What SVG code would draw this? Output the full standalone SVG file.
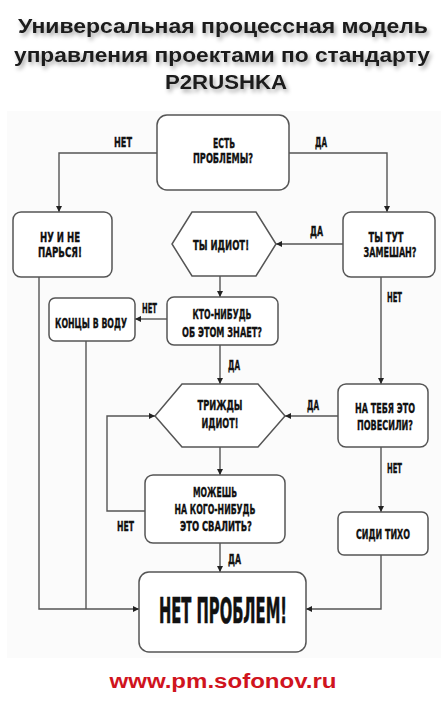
<svg xmlns="http://www.w3.org/2000/svg" width="448" height="709" viewBox="0 0 448 709">
<defs>
<filter id="sh" x="-10%" y="-30%" width="120%" height="170%">
<feDropShadow dx="2" dy="3" stdDeviation="2" flood-color="#000" flood-opacity="0.35"/>
</filter>
<marker id="ah" viewBox="0 0 10 10" refX="10" refY="5" markerWidth="6" markerHeight="6" markerUnits="userSpaceOnUse" orient="auto">
<path d="M0,0 L10,5 L0,10 z" fill="#222"/>
</marker>
<style>
.title{font-family:"Liberation Sans",Arial,sans-serif;font-weight:bold;font-size:20px;fill:#1a1a1a;text-anchor:middle}
.box{fill:#fff;stroke:#555;stroke-width:1.5}
.t{font-family:"DejaVu Sans Condensed","DejaVu Sans",sans-serif;font-weight:bold;font-size:14.5px;fill:#111;stroke:#111;stroke-width:0.35;text-anchor:middle}
.lbl{font-family:"DejaVu Sans Condensed","DejaVu Sans",sans-serif;font-weight:bold;font-size:14.5px;fill:#111;stroke:#111;stroke-width:0.35}
.c{fill:none;stroke:#555;stroke-width:1.4}
.ca{fill:none;stroke:#555;stroke-width:1.4;marker-end:url(#ah)}
.url{font-family:"Liberation Sans",Arial,sans-serif;font-weight:bold;font-size:20px;fill:#d0141e;text-anchor:middle}
</style>
</defs>
<rect width="448" height="709" fill="#fff"/>
<rect x="7" y="111" width="434" height="547" fill="#fbfbfb"/>
<g id="title" filter="url(#sh)">
<text class="title" x="223" y="33" textLength="410" lengthAdjust="spacingAndGlyphs">Универсальная процессная модель</text>
<text class="title" x="222" y="62" textLength="416" lengthAdjust="spacingAndGlyphs">управления проектами по стандарту</text>
<text class="title" x="226" y="89" textLength="122" lengthAdjust="spacingAndGlyphs">P2RUSHKA</text>
</g>
<g id="connectors">
<polyline class="ca" points="157,153 59,153 59,212"/>
<polyline class="ca" points="289,153 387,153 387,212"/>
<line class="ca" x1="343" y1="244" x2="276" y2="244"/>
<line class="ca" x1="220" y1="276" x2="220" y2="297"/>
<line class="ca" x1="167" y1="319" x2="135" y2="319"/>
<line class="ca" x1="220" y1="345" x2="220" y2="384"/>
<line class="ca" x1="381" y1="277" x2="381" y2="384"/>
<line class="ca" x1="338" y1="416" x2="285" y2="416"/>
<polyline class="ca" points="145,511 107,511 107,416 155,416"/>
<line class="ca" x1="220" y1="447" x2="220" y2="475"/>
<line class="ca" x1="381" y1="447" x2="381" y2="512"/>
<line class="ca" x1="220" y1="543" x2="220" y2="572"/>
<polyline class="ca" points="39,277 39,609 139,609"/>
<line class="c" x1="86" y1="341" x2="86" y2="609"/>
<polyline class="ca" points="381,555 381,609 306,609"/>
<text class="lbl" x="114" y="147" textLength="18" lengthAdjust="spacingAndGlyphs">НЕТ</text>
<text class="lbl" x="315" y="147" textLength="12" lengthAdjust="spacingAndGlyphs">ДА</text>
<text class="lbl" x="310" y="236" textLength="13" lengthAdjust="spacingAndGlyphs">ДА</text>
<text class="lbl" x="387" y="302" textLength="15" lengthAdjust="spacingAndGlyphs">НЕТ</text>
<text class="lbl" x="142" y="313" textLength="15" lengthAdjust="spacingAndGlyphs">НЕТ</text>
<text class="lbl" x="228" y="370" textLength="12" lengthAdjust="spacingAndGlyphs">ДА</text>
<text class="lbl" x="307" y="410" textLength="12" lengthAdjust="spacingAndGlyphs">ДА</text>
<text class="lbl" x="387" y="473" textLength="15" lengthAdjust="spacingAndGlyphs">НЕТ</text>
<text class="lbl" x="117" y="531" textLength="17" lengthAdjust="spacingAndGlyphs">НЕТ</text>
<text class="lbl" x="228" y="564" textLength="13" lengthAdjust="spacingAndGlyphs">ДА</text>
</g>
<g id="n-problems">
<rect class="box" x="157" y="115" width="132" height="75" rx="10"/>
<text class="t" x="224" y="148" textLength="22" lengthAdjust="spacingAndGlyphs">ЕСТЬ</text>
<text class="t" x="223" y="163" textLength="60" lengthAdjust="spacingAndGlyphs">ПРОБЛЕМЫ?</text>
</g>
<g id="n-nu">
<rect class="box" x="13" y="212" width="99" height="65" rx="8"/>
<text class="t" x="60" y="242" textLength="40" lengthAdjust="spacingAndGlyphs">НУ И НЕ</text>
<text class="t" x="60" y="257" textLength="44" lengthAdjust="spacingAndGlyphs">ПАРЬСЯ!</text>
</g>
<g id="n-idiot">
<polygon class="box" points="192,212 256,212 276,244 256,276 192,276 172,244"/>
<text class="t" x="221" y="250" textLength="56" lengthAdjust="spacingAndGlyphs">ТЫ ИДИОТ!</text>
</g>
<g id="n-zamesh">
<rect class="box" x="343" y="212" width="92" height="65" rx="8"/>
<text class="t" x="386" y="242" textLength="35" lengthAdjust="spacingAndGlyphs">ТЫ ТУТ</text>
<text class="t" x="390" y="257" textLength="53" lengthAdjust="spacingAndGlyphs">ЗАМЕШАН?</text>
</g>
<g id="n-koncy">
<rect class="box" x="49" y="298" width="86" height="43" rx="6"/>
<text class="t" x="91" y="328" textLength="72" lengthAdjust="spacingAndGlyphs">КОНЦЫ В ВОДУ</text>
</g>
<g id="n-ktonibud">
<rect class="box" x="167" y="297" width="111" height="48" rx="7"/>
<text class="t" x="222" y="319" textLength="59" lengthAdjust="spacingAndGlyphs">КТО-НИБУДЬ</text>
<text class="t" x="222" y="337" textLength="80" lengthAdjust="spacingAndGlyphs">ОБ ЭТОМ ЗНАЕТ?</text>
</g>
<g id="n-trizhdy">
<polygon class="box" points="182,384 258,384 285,416 258,447 182,447 155,416"/>
<text class="t" x="220" y="410" textLength="45" lengthAdjust="spacingAndGlyphs">ТРИЖДЫ</text>
<text class="t" x="220" y="428" textLength="37" lengthAdjust="spacingAndGlyphs">ИДИОТ!</text>
</g>
<g id="n-povesili">
<rect class="box" x="338" y="384" width="90" height="63" rx="8"/>
<text class="t" x="385" y="413" textLength="60" lengthAdjust="spacingAndGlyphs">НА ТЕБЯ ЭТО</text>
<text class="t" x="385" y="430" textLength="56" lengthAdjust="spacingAndGlyphs">ПОВЕСИЛИ?</text>
</g>
<g id="n-svalit">
<rect class="box" x="145" y="475" width="140" height="68" rx="8"/>
<text class="t" x="215" y="497" textLength="44" lengthAdjust="spacingAndGlyphs">МОЖЕШЬ</text>
<text class="t" x="215" y="514" textLength="81" lengthAdjust="spacingAndGlyphs">НА КОГО-НИБУДЬ</text>
<text class="t" x="216" y="531" textLength="72" lengthAdjust="spacingAndGlyphs">ЭТО СВАЛИТЬ?</text>
</g>
<g id="n-sidi">
<rect class="box" x="338" y="512" width="90" height="43" rx="6"/>
<text class="t" x="383" y="539" textLength="54" lengthAdjust="spacingAndGlyphs">СИДИ ТИХО</text>
</g>
<g id="n-net-problem">
<rect class="box" x="139" y="572" width="167" height="80" rx="10"/>
<text class="t" x="223" y="623" style="font-size:35px;stroke-width:0.6" textLength="128" lengthAdjust="spacingAndGlyphs">НЕТ ПРОБЛЕМ!</text>
</g>
<text class="url" x="223" y="688" textLength="227" lengthAdjust="spacingAndGlyphs">www.pm.sofonov.ru</text>
</svg>
